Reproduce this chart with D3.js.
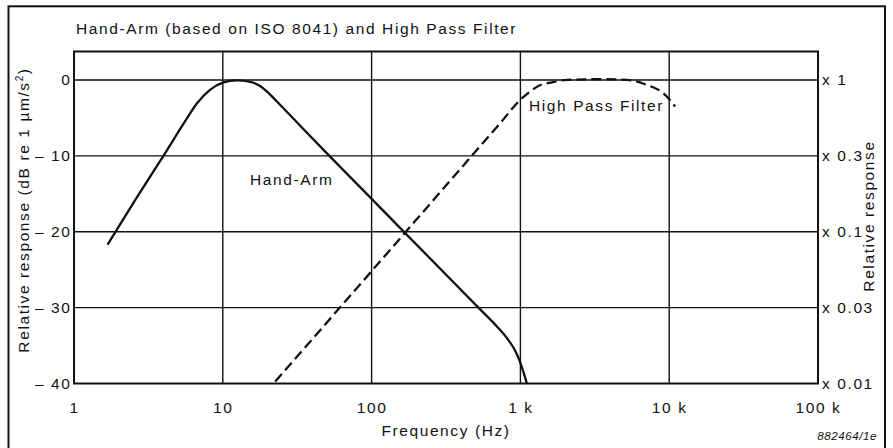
<head>
    <script src="https://d3js.org/d3.v7.min.js"></script>
    <style>
        body { margin: 0; background: white; }
        text { font-family: "Liberation Sans", Arial, sans-serif; font-size: 15.5px; letter-spacing: 1.6px; fill: #111; }
        .axis .domain, .axis line { display: none; }
    </style>
</head>
<body>
<svg id="plot" width="893" height="448"></svg>
<script>
    // values
    const freqTicks = [1, 10, 100, 1000, 10000, 100000];
    const freqLabels = ["1", "10", "100", "1 k", "10 k", "100 k"];
    const dbTicks = [0, -10, -20, -30, -40];
    const dbLabels = ["0", "\u2013 10", "\u2013 20", "\u2013 30", "\u2013 40"];
    const relLabels = ["x 1", "x 0.3", "x 0.1", "x 0.03", "x 0.01"];

    // Hand-Arm weighting [Hz, dB]
    const handArm = [
        [1.68, -21.7], [2.6, -15.7], [3.99, -10], [5.6, -5.4], [6.69, -3.1], [8.2, -1.3], [10, -0.35],
        [12.4, -0.05], [15.3, -0.25], [17.8, -0.8], [20, -1.6], [23, -2.8], [33, -6.0],
        [52.6, -10.1], [102.8, -15.9], [163.7, -19.95], [522, -30.0], [700, -32.55],
        [800, -33.86], [880, -34.99], [940, -36.01], [990, -37.06], [1040, -38.29],
        [1080, -39.32], [1106, -40]
    ];
    // High pass filter [Hz, dB]
    const highPass = [
        [22.5, -39.75], [100, -25.2], [471, -10.0], [731, -5.7],
        [1000, -2.6], [1167, -1.5], [1350, -0.7], [1589, -0.35], [2050, 0], [3440, 0.1],
        [5200, 0], [7080, -0.66], [9140, -1.75], [10960, -3.5]
    ];

    const svg = d3.select("svg#plot");
    const plot = {left: 74, right: 818, top: 51.5, bottom: 383.5};

    const x = d3.scaleLog().domain([1, 100000]).range([plot.left, plot.right]);
    const y = d3.scaleLinear().domain([-40, 3.75]).range([plot.bottom, plot.top]);

    // outer frame
    svg.append("rect")
        .attr("x", 8.5).attr("y", 6.3).attr("width", 876.5).attr("height", 444)
        .attr("fill", "none").attr("stroke", "#111").attr("stroke-width", 2);

    // gridlines
    svg.append("g").selectAll("line")
        .data(dbTicks.filter(d => d > -40))
        .enter().append("line")
        .attr("x1", plot.left).attr("x2", plot.right)
        .attr("y1", d => y(d)).attr("y2", d => y(d))
        .attr("stroke", "#111").attr("stroke-width", 1.4);
    svg.append("g").selectAll("line")
        .data(freqTicks.slice(1, -1))
        .enter().append("line")
        .attr("x1", d => x(d)).attr("x2", d => x(d))
        .attr("y1", plot.top).attr("y2", plot.bottom)
        .attr("stroke", "#111").attr("stroke-width", 1.4);

    // plot frame
    svg.append("rect")
        .attr("x", plot.left).attr("y", plot.top)
        .attr("width", plot.right - plot.left).attr("height", plot.bottom - plot.top)
        .attr("fill", "none").attr("stroke", "#111").attr("stroke-width", 2);

    // axes
    svg.append("g").attr("class", "axis")
        .attr("transform", `translate(0,${plot.bottom})`)
        .call(d3.axisBottom(x).tickValues(freqTicks).tickSize(0).tickPadding(18.5)
            .tickFormat((d, i) => freqLabels[i]));
    svg.append("g").attr("class", "axis")
        .attr("transform", `translate(${plot.left},0)`)
        .call(d3.axisLeft(y).tickValues(dbTicks).tickSize(0).tickPadding(2.5)
            .tickFormat((d, i) => dbLabels[i]));
    svg.append("g").attr("class", "axis")
        .attr("transform", `translate(${plot.right},0)`)
        .call(d3.axisRight(y).tickValues(dbTicks).tickSize(0).tickPadding(4)
            .tickFormat((d, i) => relLabels[i]));
    svg.selectAll(".axis text").attr("fill", "#111").style("font-size", "15.5px")
        .style("font-family", '"Liberation Sans", Arial, sans-serif');

    // curves
    const line = d3.line().x(d => x(d[0])).y(d => y(d[1])).curve(d3.curveMonotoneX);
    svg.append("path").datum(handArm).attr("d", line)
        .attr("fill", "none").attr("stroke", "#111").attr("stroke-width", 2.3);
    svg.append("path").datum(highPass).attr("d", line)
        .attr("fill", "none").attr("stroke", "#111").attr("stroke-width", 2.3)
        .attr("stroke-dasharray", "10,5");

    // labels
    svg.append("text").attr("x", 76).attr("y", 33.5)
        .text("Hand-Arm (based on ISO 8041) and High Pass Filter");
    svg.append("text").attr("x", 250).attr("y", 185).text("Hand-Arm");
    svg.append("text").attr("x", 529).attr("y", 111).text("High Pass Filter");
    svg.append("text").attr("x", 446).attr("y", 436).attr("text-anchor", "middle")
        .text("Frequency (Hz)");

    const yl = svg.append("text")
        .attr("transform", "translate(28.5,210) rotate(-90)")
        .attr("text-anchor", "middle");
    yl.append("tspan").text("Relative response (dB re 1 \u00b5m/s");
    yl.append("tspan").attr("dy", -6).style("font-size", "10px").text("2");
    yl.append("tspan").attr("dy", 6).text(")");

    svg.append("text")
        .attr("transform", "translate(873.5,216) rotate(-90)")
        .attr("text-anchor", "middle")
        .text("Relative response");

    svg.append("text").attr("x", 877).attr("y", 440).attr("text-anchor", "end")
        .style("font-size", "11.5px").style("font-style", "italic").style("letter-spacing", "0.6px")
        .text("882464/1e");
</script>
</body>
